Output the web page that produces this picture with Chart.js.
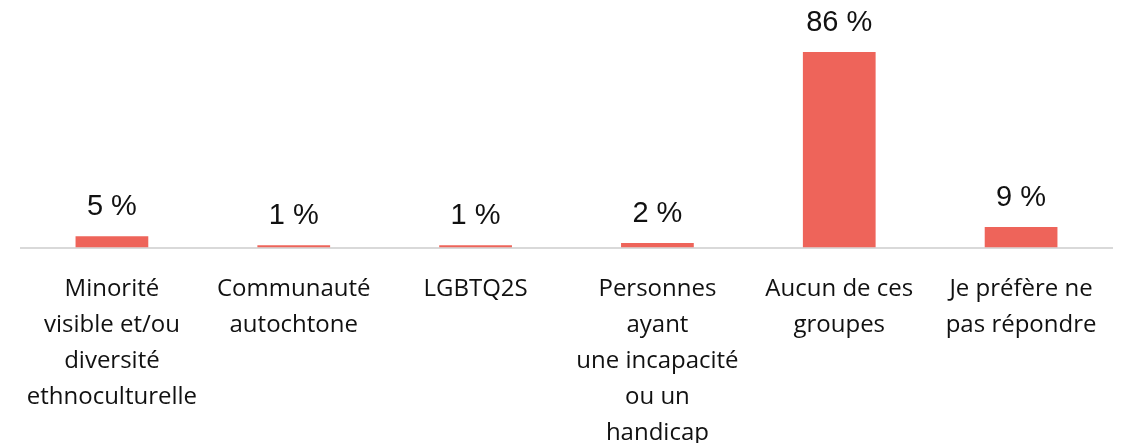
<!DOCTYPE html>
<html>
<head>
<meta charset="utf-8">
<script src="https://cdn.jsdelivr.net/npm/chart.js@4"></script>
<style>
  html, body { margin: 0; padding: 0; background: #fff; }
  #wrap { width: 1125px; height: 446px; }
</style>
</head>
<body>
<div id="wrap"><canvas id="groupChart"></canvas></div>
<script>
const groupLabels = [
  ['Minorité', 'visible et/ou', 'diversité', 'ethnoculturelle'],
  ['Communauté', 'autochtone'],
  ['LGBTQ2S'],
  ['Personnes', 'ayant', 'une incapacité', 'ou un', 'handicap'],
  ['Aucun de ces', 'groupes'],
  ['Je préfère ne', 'pas répondre']
];
const groupPercents = [5, 1, 1, 2, 86, 9];

const labelFont = "'Open Sans', sans-serif";
const valueFont = "'Liberation Sans', Arial, sans-serif";

const valueLabels = {
  id: 'valueLabels',
  afterDatasetsDraw(chart) {
    const ctx = chart.ctx;
    const meta = chart.getDatasetMeta(0);
    ctx.save();
    ctx.font = '29px ' + valueFont;
    ctx.fillStyle = '#111';
    ctx.textAlign = 'center';
    ctx.textBaseline = 'alphabetic';
    meta.data.forEach((bar, i) => {
      ctx.fillText(groupPercents[i] + ' %', bar.x, bar.y - 21);
    });
    ctx.restore();
  }
};

new Chart(document.getElementById('groupChart'), {
  type: 'bar',
  data: {
    labels: groupLabels,
    datasets: [{ data: groupPercents, backgroundColor: '#ee645a', barPercentage: 0.8, categoryPercentage: 0.5 }]
  },
  options: {
    responsive: true, maintainAspectRatio: false, animation: false,
    layout: { padding: { top: 52, left: 21, right: 13, bottom: 3 } },
    plugins: { legend: { display: false }, tooltip: { enabled: false } },
    scales: {
      x: {
        grid: { display: false },
        border: { display: true, color: '#d9d9d9', width: 2 },
        ticks: { color: '#111', padding: 16, maxRotation: 0, autoSkip: false, font: { family: labelFont, size: 24, lineHeight: 1.5 } }
      },
      y: { display: false, min: 0, max: 86 }
    }
  },
  plugins: [valueLabels]
});
</script>
</body>
</html>
